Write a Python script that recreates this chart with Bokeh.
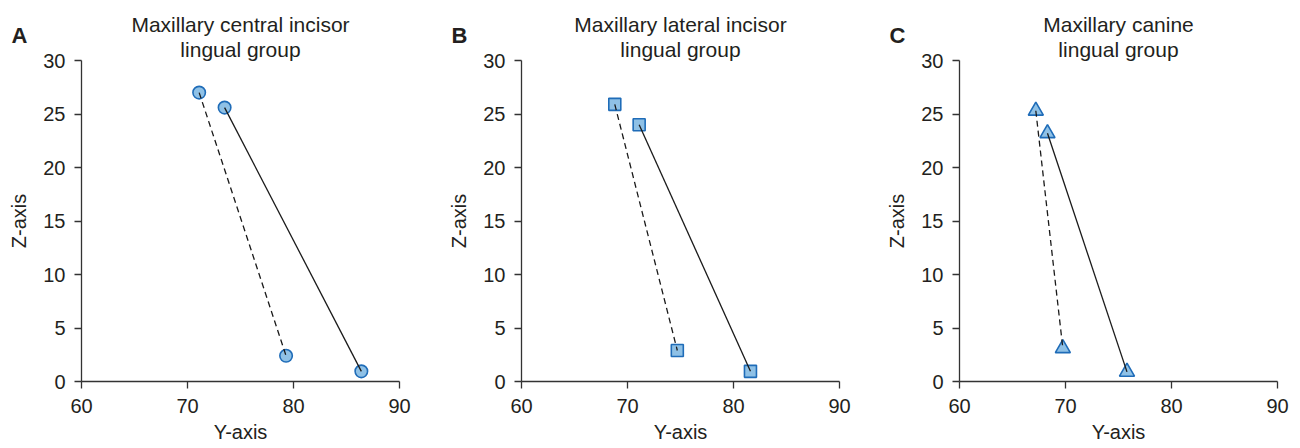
from bokeh.plotting import figure
from bokeh.models import Range1d, Label, FixedTicker, Title
from bokeh.layouts import row
from bokeh.embed import file_html
from bokeh.resources import INLINE

# ---- data ----
panel_letters = ["A", "B", "C"]
title_line1 = ["Maxillary central incisor", "Maxillary lateral incisor", "Maxillary canine"]
title_line2 = ["lingual group", "lingual group", "lingual group"]
marker_types = ["circle", "square", "triangle"]

dashed_y = [[71.1, 79.3], [68.8, 74.7], [67.2, 69.75]]
dashed_z = [[27.0, 2.4], [25.9, 2.9], [25.3, 3.1]]
solid_y = [[73.5, 86.4], [71.1, 81.6], [68.3, 75.8]]
solid_z = [[25.6, 0.95], [24.0, 0.95], [23.2, 0.9]]

x_ticks = [60, 70, 80, 90]
z_ticks = [0, 5, 10, 15, 20, 25, 30]
x_axis_label = "Y-axis"
z_axis_label = "Z-axis"

FONT = "Liberation Sans"
TXT = "#231f20"
FILL = "#8fc1e6"
EDGE = "#1f6cb8"

borders = [(81, 20), (102, 20), (100, 23)]
marker_sizes = [12.5, 12, 15]
FRAME_W = 318
FRAME_H = 321

figs = []
for i in range(3):
    bl, br = borders[i]
    w = bl + FRAME_W + br
    p = figure(width=w, height=448, output_backend="svg", toolbar_location=None,
               x_range=Range1d(x_ticks[0], x_ticks[-1]),
               y_range=Range1d(z_ticks[0], z_ticks[-1]),
               min_border_left=bl, min_border_right=br,
               min_border_top=60, min_border_bottom=67)
    p.outline_line_color = None
    p.grid.visible = False
    p.background_fill_color = "white"
    p.border_fill_color = "white"

    for ax in (p.xaxis[0], p.yaxis[0]):
        ax.axis_line_color = "#333333"
        ax.axis_line_width = 1.3
        ax.major_tick_line_color = "#333333"
        ax.major_tick_line_width = 1.3
        ax.major_tick_out = 7
        ax.major_tick_in = 0
        ax.minor_tick_line_color = None
        ax.major_label_text_font = FONT
        ax.major_label_text_font_size = "20px"
        ax.major_label_text_color = TXT
        ax.axis_label_text_font = FONT
        ax.axis_label_text_font_size = "20px"
        ax.axis_label_text_color = TXT
        ax.axis_label_text_font_style = "normal"
    p.xaxis[0].ticker = FixedTicker(ticks=x_ticks)
    p.yaxis[0].ticker = FixedTicker(ticks=z_ticks)
    p.xaxis[0].axis_label = x_axis_label
    p.yaxis[0].axis_label = z_axis_label
    p.xaxis[0].major_label_standoff = 10
    p.yaxis[0].major_label_standoff = 9
    p.xaxis[0].axis_label_standoff = 5
    p.yaxis[0].axis_label_standoff = 10

    p.scatter(dashed_y[i], dashed_z[i], marker=marker_types[i], size=marker_sizes[i],
              fill_color=FILL, line_color=EDGE, line_width=1.6)
    p.scatter(solid_y[i], solid_z[i], marker=marker_types[i], size=marker_sizes[i],
              fill_color=FILL, line_color=EDGE, line_width=1.6)
    p.line(dashed_y[i], dashed_z[i], line_color="#1a1a1a", line_width=1.3, line_dash="6 4")
    p.line(solid_y[i], solid_z[i], line_color="#1a1a1a", line_width=1.3)

    # panel letter placed in the right side panel (side-panel annotations are not clipped)
    p.add_layout(Label(x=-(FRAME_W + 62), y=FRAME_H + 25, x_units="screen", y_units="screen",
                       text=panel_letters[i], text_align="center", text_baseline="middle",
                       text_font=FONT, text_font_size="22px", text_font_style="bold",
                       text_color=TXT), "right")
    p.add_layout(Title(text=title_line2[i], align="center", text_font=FONT,
                       text_font_size="21px", text_font_style="normal",
                       text_color=TXT, standoff=0), "above")
    p.add_layout(Title(text=title_line1[i], align="center", text_font=FONT,
                       text_font_size="21px", text_font_style="normal",
                       text_color=TXT, standoff=0), "above")
    figs.append(p)

layout = row(*figs)
open("out.html", "w").write(file_html(layout, INLINE))
